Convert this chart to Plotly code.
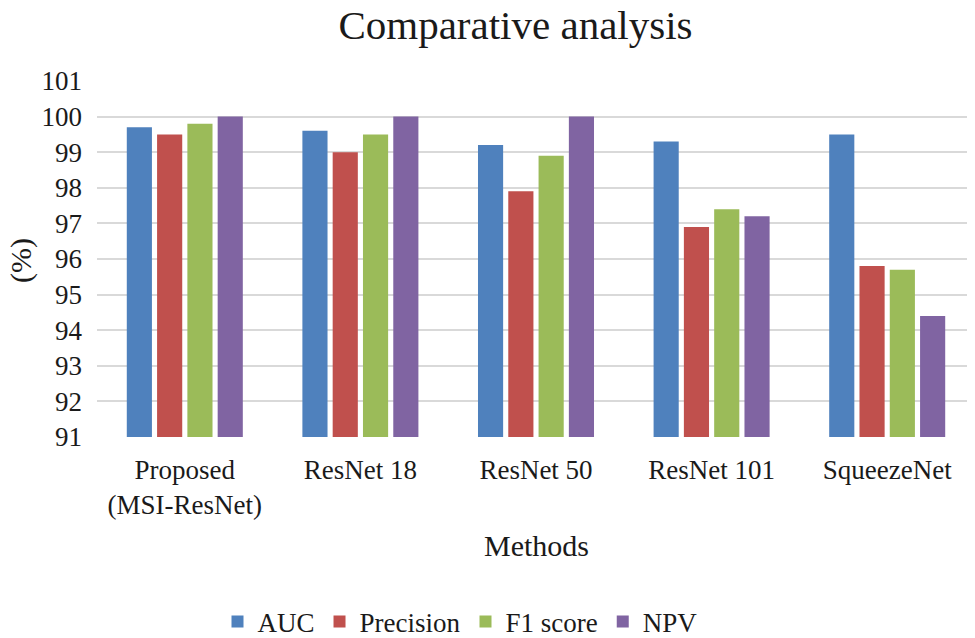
import plotly.graph_objects as go

categories = ["Proposed<br>(MSI-ResNet)", "ResNet 18", "ResNet 50", "ResNet 101", "SqueezeNet"]
auc = [99.7, 99.6, 99.2, 99.3, 99.5]
precision = [99.5, 99.0, 97.9, 96.9, 95.8]
f1 = [99.8, 99.5, 98.9, 97.4, 95.7]
npv = [100, 100, 100, 97.2, 94.4]
y_ticks = list(range(91, 102))

series = [("AUC", auc, "#4F81BD"), ("Precision", precision, "#C0504D"),
          ("F1 score", f1, "#9BBB59"), ("NPV", npv, "#8064A2")]

font = "Liberation Serif"
txt = "#1a1a1a"
OFF = 8  # page body margin offset
W, H = 975 - OFF, 638 - OFF
L, T = 97 - OFF, 81 - OFF
R, B = 0, H - (437 - OFF)
pw, ph = W - L - R, H - T - B


def px(xs):
    return (xs - OFF - L) / pw


def py(ys):
    return (T + ph - (ys - OFF)) / ph


fig = go.Figure()
for name, vals, col in series:
    fig.add_trace(go.Bar(x=categories, y=[v - 91 for v in vals], base=91, name=name,
                         marker=dict(color=col, line=dict(width=0))))

fig.update_layout(
    width=W, height=H,
    paper_bgcolor="white", plot_bgcolor="white",
    font=dict(family=font, size=27, color=txt),
    title=dict(text="Comparative analysis", x=px(515.5), xanchor="center", xref="paper",
               y=1 - (25 - OFF) / H, yanchor="middle",
               font=dict(family=font, size=41, color=txt)),
    margin=dict(l=L, r=R, t=T, b=B, autoexpand=False),
    barmode="group", bargap=0.31, bargroupgap=0.17,
    legend=dict(orientation="h", x=px(460), xanchor="center", xref="paper",
                y=(638 - 622) / H, yanchor="middle", yref="container",
                font=dict(family=font, size=27, color=txt), itemwidth=30, traceorder="normal"),
    showlegend=True,
    annotations=[
        dict(text="Methods", x=px(536.5), xref="paper", xanchor="center", y=py(545),
             yref="paper", yanchor="middle", showarrow=False,
             font=dict(family=font, size=30, color=txt)),
        dict(text="(%)", x=px(21), xref="paper", xanchor="center", y=py(261), yref="paper",
             yanchor="middle", textangle=-90, showarrow=False,
             font=dict(family=font, size=30, color=txt)),
    ],
)
fig.update_xaxes(showline=False, ticks="", automargin=False, ticklabelstandoff=14,
                 tickfont=dict(family=font, size=27, color=txt))
fig.update_yaxes(range=[91, 101], tickvals=y_ticks, showgrid=True, gridcolor="#d9d9d9", gridwidth=1.5,
                 zeroline=False, showline=False, ticks="", automargin=False, ticklabelstandoff=14,
                 tickfont=dict(family=font, size=27, color=txt))

fig.write_html("out.html")
